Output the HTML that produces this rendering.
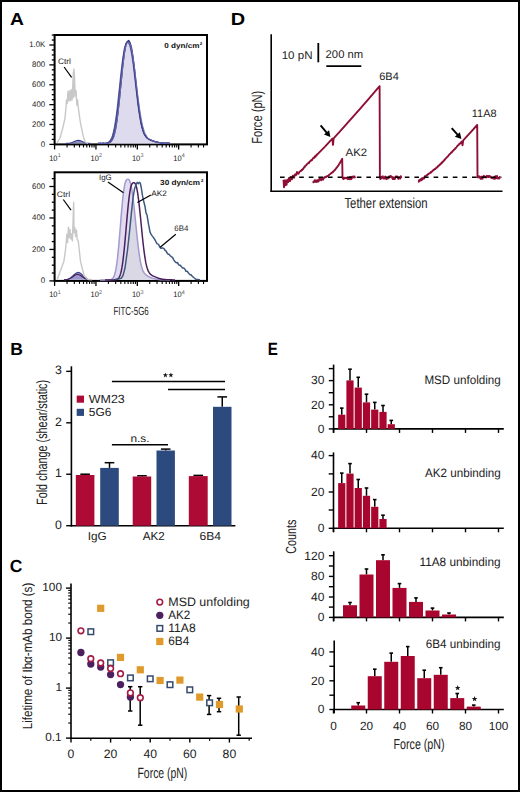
<!DOCTYPE html>
<html><head><meta charset="utf-8"><style>
html,body{margin:0;padding:0;background:#fff;}
body{width:520px;height:792px;overflow:hidden;}
svg{display:block;}
text{font-family:"Liberation Sans",sans-serif;text-rendering:geometricPrecision;}
</style></head><body>
<svg width="520" height="792" viewBox="0 0 520 792">
<rect x="0" y="0" width="520" height="792" fill="#fff"/>
<text x="9.9" y="25" font-size="17.3" font-weight="bold" fill="#000" textLength="13.9" lengthAdjust="spacingAndGlyphs">A</text>
<text x="230.8" y="25.4" font-size="17.5" font-weight="bold" fill="#000" textLength="14.4" lengthAdjust="spacingAndGlyphs">D</text>
<text x="10.3" y="354.6" font-size="17.5" font-weight="bold" fill="#000">B</text>
<text x="9.8" y="571.6" font-size="17.5" font-weight="bold" fill="#000">C</text>
<text x="267.8" y="354.8" font-size="17.8" font-weight="bold" fill="#000" textLength="10.1" lengthAdjust="spacingAndGlyphs">E</text>
<rect x="54.6" y="35" width="152.4" height="109.4" fill="none" stroke="#000" stroke-width="2"/>
<line x1="49.4" y1="144.4" x2="54.6" y2="144.4" stroke="#000" stroke-width="1.3"/>
<line x1="51.8" y1="139.43" x2="54.6" y2="139.43" stroke="#000" stroke-width="1.3"/>
<line x1="51.8" y1="134.46" x2="54.6" y2="134.46" stroke="#000" stroke-width="1.3"/>
<line x1="51.8" y1="129.49" x2="54.6" y2="129.49" stroke="#000" stroke-width="1.3"/>
<line x1="49.4" y1="124.52" x2="54.6" y2="124.52" stroke="#000" stroke-width="1.3"/>
<line x1="51.8" y1="119.55" x2="54.6" y2="119.55" stroke="#000" stroke-width="1.3"/>
<line x1="51.8" y1="114.58" x2="54.6" y2="114.58" stroke="#000" stroke-width="1.3"/>
<line x1="51.8" y1="109.61" x2="54.6" y2="109.61" stroke="#000" stroke-width="1.3"/>
<line x1="49.4" y1="104.64" x2="54.6" y2="104.64" stroke="#000" stroke-width="1.3"/>
<line x1="51.8" y1="99.67" x2="54.6" y2="99.67" stroke="#000" stroke-width="1.3"/>
<line x1="51.8" y1="94.7" x2="54.6" y2="94.7" stroke="#000" stroke-width="1.3"/>
<line x1="51.8" y1="89.73" x2="54.6" y2="89.73" stroke="#000" stroke-width="1.3"/>
<line x1="49.4" y1="84.76" x2="54.6" y2="84.76" stroke="#000" stroke-width="1.3"/>
<line x1="51.8" y1="79.79" x2="54.6" y2="79.79" stroke="#000" stroke-width="1.3"/>
<line x1="51.8" y1="74.82" x2="54.6" y2="74.82" stroke="#000" stroke-width="1.3"/>
<line x1="51.8" y1="69.85" x2="54.6" y2="69.85" stroke="#000" stroke-width="1.3"/>
<line x1="49.4" y1="64.88" x2="54.6" y2="64.88" stroke="#000" stroke-width="1.3"/>
<line x1="51.8" y1="59.91" x2="54.6" y2="59.91" stroke="#000" stroke-width="1.3"/>
<line x1="51.8" y1="54.94" x2="54.6" y2="54.94" stroke="#000" stroke-width="1.3"/>
<line x1="51.8" y1="49.97" x2="54.6" y2="49.97" stroke="#000" stroke-width="1.3"/>
<line x1="49.4" y1="45" x2="54.6" y2="45" stroke="#000" stroke-width="1.3"/>
<line x1="51.8" y1="40.03" x2="54.6" y2="40.03" stroke="#000" stroke-width="1.3"/>
<line x1="51.8" y1="35.06" x2="54.6" y2="35.06" stroke="#000" stroke-width="1.3"/>
<text x="45.1" y="146.5" font-size="8.1" text-anchor="end" fill="#222" textLength="4.4" lengthAdjust="spacingAndGlyphs">0</text>
<text x="45.1" y="126.62" font-size="8.1" text-anchor="end" fill="#222" textLength="13" lengthAdjust="spacingAndGlyphs">200</text>
<text x="45.1" y="106.74" font-size="8.1" text-anchor="end" fill="#222" textLength="13" lengthAdjust="spacingAndGlyphs">400</text>
<text x="45.1" y="86.86" font-size="8.1" text-anchor="end" fill="#222" textLength="13" lengthAdjust="spacingAndGlyphs">600</text>
<text x="45.1" y="66.98" font-size="8.1" text-anchor="end" fill="#222" textLength="13" lengthAdjust="spacingAndGlyphs">800</text>
<text x="45.1" y="47.1" font-size="8.1" text-anchor="end" fill="#222" textLength="15.9" lengthAdjust="spacingAndGlyphs">1.0K</text>
<line x1="54.6" y1="144.4" x2="54.6" y2="149.4" stroke="#000" stroke-width="1.3"/>
<line x1="67.05" y1="144.4" x2="67.05" y2="147.4" stroke="#000" stroke-width="1.1"/>
<line x1="74.33" y1="144.4" x2="74.33" y2="147.4" stroke="#000" stroke-width="1.1"/>
<line x1="79.5" y1="144.4" x2="79.5" y2="147.4" stroke="#000" stroke-width="1.1"/>
<line x1="83.5" y1="144.4" x2="83.5" y2="147.4" stroke="#000" stroke-width="1.1"/>
<line x1="86.78" y1="144.4" x2="86.78" y2="147.4" stroke="#000" stroke-width="1.1"/>
<line x1="89.54" y1="144.4" x2="89.54" y2="147.4" stroke="#000" stroke-width="1.1"/>
<line x1="91.94" y1="144.4" x2="91.94" y2="147.4" stroke="#000" stroke-width="1.1"/>
<line x1="94.06" y1="144.4" x2="94.06" y2="147.4" stroke="#000" stroke-width="1.1"/>
<text x="49.2" y="160.9" font-size="7.9" fill="#222" textLength="8.3" lengthAdjust="spacingAndGlyphs">10</text>
<text x="57.7" y="157.4" font-size="5.4" fill="#555">1</text>
<line x1="95.95" y1="144.4" x2="95.95" y2="149.4" stroke="#000" stroke-width="1.3"/>
<line x1="108.4" y1="144.4" x2="108.4" y2="147.4" stroke="#000" stroke-width="1.1"/>
<line x1="115.68" y1="144.4" x2="115.68" y2="147.4" stroke="#000" stroke-width="1.1"/>
<line x1="120.85" y1="144.4" x2="120.85" y2="147.4" stroke="#000" stroke-width="1.1"/>
<line x1="124.85" y1="144.4" x2="124.85" y2="147.4" stroke="#000" stroke-width="1.1"/>
<line x1="128.13" y1="144.4" x2="128.13" y2="147.4" stroke="#000" stroke-width="1.1"/>
<line x1="130.89" y1="144.4" x2="130.89" y2="147.4" stroke="#000" stroke-width="1.1"/>
<line x1="133.29" y1="144.4" x2="133.29" y2="147.4" stroke="#000" stroke-width="1.1"/>
<line x1="135.41" y1="144.4" x2="135.41" y2="147.4" stroke="#000" stroke-width="1.1"/>
<text x="90.55" y="160.9" font-size="7.9" fill="#222" textLength="8.3" lengthAdjust="spacingAndGlyphs">10</text>
<text x="99.05" y="157.4" font-size="5.4" fill="#555">2</text>
<line x1="137.3" y1="144.4" x2="137.3" y2="149.4" stroke="#000" stroke-width="1.3"/>
<line x1="149.75" y1="144.4" x2="149.75" y2="147.4" stroke="#000" stroke-width="1.1"/>
<line x1="157.03" y1="144.4" x2="157.03" y2="147.4" stroke="#000" stroke-width="1.1"/>
<line x1="162.2" y1="144.4" x2="162.2" y2="147.4" stroke="#000" stroke-width="1.1"/>
<line x1="166.2" y1="144.4" x2="166.2" y2="147.4" stroke="#000" stroke-width="1.1"/>
<line x1="169.48" y1="144.4" x2="169.48" y2="147.4" stroke="#000" stroke-width="1.1"/>
<line x1="172.24" y1="144.4" x2="172.24" y2="147.4" stroke="#000" stroke-width="1.1"/>
<line x1="174.64" y1="144.4" x2="174.64" y2="147.4" stroke="#000" stroke-width="1.1"/>
<line x1="176.76" y1="144.4" x2="176.76" y2="147.4" stroke="#000" stroke-width="1.1"/>
<text x="131.9" y="160.9" font-size="7.9" fill="#222" textLength="8.3" lengthAdjust="spacingAndGlyphs">10</text>
<text x="140.4" y="157.4" font-size="5.4" fill="#555">3</text>
<line x1="178.65" y1="144.4" x2="178.65" y2="149.4" stroke="#000" stroke-width="1.3"/>
<line x1="191.1" y1="144.4" x2="191.1" y2="147.4" stroke="#000" stroke-width="1.1"/>
<line x1="198.38" y1="144.4" x2="198.38" y2="147.4" stroke="#000" stroke-width="1.1"/>
<line x1="203.55" y1="144.4" x2="203.55" y2="147.4" stroke="#000" stroke-width="1.1"/>
<text x="173.25" y="160.9" font-size="7.9" fill="#222" textLength="8.3" lengthAdjust="spacingAndGlyphs">10</text>
<text x="181.75" y="157.4" font-size="5.4" fill="#555">4</text>
<text x="164.3" y="48.1" font-size="7.2" font-weight="bold" fill="#111" textLength="35.3" lengthAdjust="spacingAndGlyphs">0 dyn/cm</text>
<text x="199.8" y="45.3" font-size="4.4" font-weight="bold" fill="#111">2</text>
<path d="M100 143.4 L100 143.4 L100.54 143.4 L101.08 143.4 L101.62 143.4 L102.17 143.39 L102.71 143.39 L103.25 143.38 L103.79 143.37 L104.33 143.36 L104.88 143.34 L105.42 143.31 L105.96 143.26 L106.5 143.2 L107.04 143.12 L107.58 143 L108.12 142.85 L108.67 142.64 L109.21 142.36 L109.75 141.99 L110.29 141.52 L110.83 140.92 L111.38 140.16 L111.92 139.22 L112.46 138.06 L113 136.66 L113.54 134.98 L114.08 133 L114.62 130.68 L115.17 128.01 L115.71 124.97 L116.25 121.55 L116.79 117.75 L117.33 113.59 L117.88 109.1 L118.42 104.3 L118.96 99.25 L119.5 94 L120.04 88.63 L120.58 83.21 L121.12 77.83 L121.67 72.58 L122.21 67.53 L122.75 62.78 L123.29 58.39 L123.83 54.43 L124.38 50.96 L124.92 48.01 L125.46 45.61 L126 43.76 L126.54 42.45 L127.08 41.64 L127.62 41.24 L128.17 41.13 L128.71 41.33 L129.25 41.93 L129.79 43.01 L130.33 44.59 L130.88 46.68 L131.42 49.28 L131.96 52.37 L132.5 55.9 L133.04 59.85 L133.58 64.14 L134.12 68.72 L134.67 73.51 L135.21 78.44 L135.75 83.43 L136.29 88.41 L136.83 93.32 L137.38 98.09 L137.92 102.65 L138.46 106.98 L139 111.03 L139.54 114.77 L140.08 118.19 L140.62 121.28 L141.17 124.05 L141.71 126.5 L142.25 128.65 L142.79 130.52 L143.33 132.13 L143.88 133.51 L144.42 134.68 L144.96 135.68 L145.5 136.52 L146.04 137.23 L146.58 137.84 L147.12 138.35 L147.67 138.79 L148.21 139.17 L148.75 139.51 L149.29 139.81 L149.83 140.08 L150.38 140.33 L150.92 140.56 L151.46 140.77 L152 140.97 L152.54 141.16 L153.08 141.34 L153.62 141.51 L154.17 141.67 L154.71 141.82 L155.25 141.96 L155.79 142.1 L156.33 142.22 L156.88 142.34 L157.42 142.45 L157.96 142.55 L158.5 142.64 L159.04 142.73 L159.58 142.8 L160.12 142.87 L160.67 142.94 L161.21 143 L161.75 143.05 L162.29 143.09 L162.83 143.14 L163.38 143.17 L163.92 143.2 L164.46 143.23 L165 143.26 L165 143.4 Z" stroke="none" stroke-width="1" fill="#dfdbef"/>
<path d="M98 143.4 L98.8 143.27 L99.6 143.42 L100.4 143.33 L101.2 143.44 L102 143.44 L102.8 143.15 L103.6 143.1 L104.4 143.46 L105.2 143.1 L106 142.96 L106.8 143.15 L107.6 142.59 L108.4 142.33 L109.2 141.5 L110 140.67 L110.8 139.17 L111.6 137.73 L112.4 135.64 L113.2 132.65 L114 129.25 L114.8 124.97 L115.6 119.65 L116.4 114.24 L117.2 107.7 L118 100.53 L118.8 92.96 L119.6 85.74 L120.4 77.93 L121.2 70.71 L122 63.97 L122.8 57.82 L123.6 52.78 L124.4 48.43 L125.2 45.67 L126 43.62 L126.8 42.98 L127.6 42.76 L128.4 42.79 L129.2 44.11 L130 46.42 L130.8 50.07 L131.6 54.06 L132.4 59.28 L133.2 64.99 L134 71.52 L134.8 78.26 L135.6 85.19 L136.4 92.22 L137.2 98.89 L138 105.33 L138.8 110.98 L139.6 116.27 L140.4 120.76 L141.2 124.72 L142 127.82 L142.8 130.25 L143.6 132.78 L144.4 134.57 L145.2 135.92 L146 136.85 L146.8 137.78 L147.6 138.22 L148.4 139.09 L149.2 139.44 L150 139.7 L150.8 139.95 L151.6 140.67 L152.4 141.04 L153.2 140.87 L154 141.49 L154.8 141.54 L155.6 141.63 L156.4 141.91 L157.2 142.34 L158 142.56 L158.8 142.3 L159.6 142.72 L160.4 142.56 L161.2 143 L162 142.89 L162.8 143.25 L163.6 143.36 L164.4 143.18 L165.2 143.47 L166 143.16 L166.8 143.08 L167.6 143.36 L168.4 143.1 L169.2 143.2 L170 143.36" stroke="#5a5ea8" stroke-width="1.1" fill="none"/>
<path d="M98 143.4 L98.8 143.35 L99.6 143.45 L100.4 143.23 L101.2 143.17 L102 143.58 L102.8 143.3 L103.6 143.62 L104.4 143.57 L105.2 143.29 L106 143.3 L106.8 143.26 L107.6 143.21 L108.4 143.01 L109.2 142.72 L110 142.32 L110.8 141.86 L111.6 140.73 L112.4 139.42 L113.2 137.82 L114 135.27 L114.8 132.32 L115.6 128.91 L116.4 124.11 L117.2 118.71 L118 112.19 L118.8 105.41 L119.6 97.91 L120.4 89.64 L121.2 81.81 L122 73.81 L122.8 65.94 L123.6 59.33 L124.4 53.28 L125.2 48.54 L126 44.75 L126.8 42.53 L127.6 41.29 L128.4 40.56 L129.2 40.86 L130 42.4 L130.8 44.88 L131.6 48 L132.4 52.68 L133.2 58.33 L134 64.59 L134.8 71.62 L135.6 78.96 L136.4 86.48 L137.2 93.95 L138 100.83 L138.8 107.38 L139.6 113.46 L140.4 118.25 L141.2 122.96 L142 126.75 L142.8 129.58 L143.6 131.98 L144.4 134.2 L145.2 135.42 L146 136.56 L146.8 137.59 L147.6 138.43 L148.4 138.71 L149.2 139.29 L150 139.7 L150.8 140.31 L151.6 140.44 L152.4 140.95 L153.2 140.88 L154 141.23 L154.8 141.63 L155.6 141.98 L156.4 141.97 L157.2 142.05 L158 142.17 L158.8 142.53 L159.6 142.5 L160.4 142.93 L161.2 143.05 L162 142.81 L162.8 142.94 L163.6 143.27 L164.4 143.24 L165.2 143.37 L166 143.18 L166.8 143.1 L167.6 143.21 L168.4 143.48 L169.2 143.23 L170 143.36" stroke="#2c2c6a" stroke-width="1.2" fill="none"/>
<path d="M98 143.4 L98.8 143.32 L99.6 143.36 L100.4 143.36 L101.2 143.35 L102 143.6 L102.8 143.21 L103.6 143.12 L104.4 143.56 L105.2 143.48 L106 143.46 L106.8 143.05 L107.6 143.11 L108.4 142.79 L109.2 141.98 L110 141.57 L110.8 140.66 L111.6 139.25 L112.4 137.4 L113.2 134.96 L114 132.01 L114.8 128.25 L115.6 123.7 L116.4 118.68 L117.2 112.48 L118 106 L118.8 98.31 L119.6 91.04 L120.4 83.07 L121.2 75.42 L122 67.99 L122.8 61.18 L123.6 55.05 L124.4 49.81 L125.2 46.35 L126 43.4 L126.8 41.91 L127.6 41.49 L128.4 41.42 L129.2 42.15 L130 44.2 L130.8 46.88 L131.6 50.66 L132.4 55.53 L133.2 61.61 L134 67.88 L134.8 74.98 L135.6 81.97 L136.4 89.12 L137.2 96.32 L138 103.13 L138.8 108.95 L139.6 114.79 L140.4 119.71 L141.2 123.81 L142 127.31 L142.8 129.77 L143.6 132.39 L144.4 134.34 L145.2 135.38 L146 136.63 L146.8 137.51 L147.6 138.34 L148.4 138.86 L149.2 139.36 L150 139.92 L150.8 139.9 L151.6 140.25 L152.4 140.59 L153.2 140.87 L154 141.1 L154.8 141.8 L155.6 141.97 L156.4 141.79 L157.2 142.19 L158 142.27 L158.8 142.43 L159.6 142.58 L160.4 142.85 L161.2 142.93 L162 142.9 L162.8 142.9 L163.6 143.03 L164.4 142.98 L165.2 143.25 L166 143.36 L166.8 143.23 L167.6 143.1 L168.4 143.17 L169.2 143.28 L170 143.36" stroke="#42438a" stroke-width="1.1" fill="none"/>
<path d="M98 143.4 L98.8 143.45 L99.6 143.54 L100.4 143.34 L101.2 143.55 L102 143.46 L102.8 143.36 L103.6 143.33 L104.4 143.38 L105.2 143.47 L106 143.3 L106.8 143.39 L107.6 143.19 L108.4 142.94 L109.2 142.86 L110 142.58 L110.8 141.72 L111.6 141.1 L112.4 139.95 L113.2 138.57 L114 136.43 L114.8 133.31 L115.6 129.96 L116.4 125.44 L117.2 119.83 L118 113.71 L118.8 106.53 L119.6 99.22 L120.4 91.06 L121.2 82.92 L122 74.75 L122.8 67.01 L123.6 60.11 L124.4 54.08 L125.2 49.09 L126 45.86 L126.8 43.37 L127.6 42.41 L128.4 42.5 L129.2 42.51 L130 43.72 L130.8 45.84 L131.6 49.31 L132.4 52.96 L133.2 57.74 L134 63.74 L134.8 69.55 L135.6 76.47 L136.4 83.15 L137.2 90.01 L138 96.68 L138.8 102.79 L139.6 108.75 L140.4 113.68 L141.2 118.76 L142 122.75 L142.8 126.36 L143.6 129 L144.4 131.75 L145.2 133.82 L146 134.98 L146.8 136.38 L147.6 137.52 L148.4 138.47 L149.2 138.84 L150 139.35 L150.8 139.85 L151.6 140.43 L152.4 140.84 L153.2 140.97 L154 141.24 L154.8 141.51 L155.6 141.72 L156.4 141.97 L157.2 141.99 L158 142.37 L158.8 142.76 L159.6 142.62 L160.4 142.91 L161.2 142.72 L162 143.07 L162.8 143.18 L163.6 143.21 L164.4 143.18 L165.2 143.21 L166 143.33 L166.8 143.49 L167.6 143.14 L168.4 143.13 L169.2 143.47 L170 143.36" stroke="#6b6db4" stroke-width="1" fill="none"/>
<path d="M66 143.37 L66.6 143.36 L67.2 143.33 L67.8 143.3 L68.4 143.25 L69 143.19 L69.6 143.1 L70.2 142.99 L70.8 142.86 L71.4 142.69 L72 142.5 L72.6 142.27 L73.2 142.03 L73.8 141.76 L74.4 141.49 L75 141.22 L75.6 140.97 L76.2 140.75 L76.8 140.58 L77.4 140.46 L78 140.4 L78.6 140.41 L79.2 140.49 L79.8 140.63 L80.4 140.82 L81 141.05 L81.6 141.31 L82.2 141.58 L82.8 141.85 L83.4 142.11 L84 142.35 L84.6 142.57 L85.2 142.75 L85.8 142.91 L86.4 143.03 L87 143.13 L87.6 143.21 L88.2 143.27 L88.8 143.31 L89.4 143.34 L90 143.36" stroke="#3a3d85" stroke-width="1.1" fill="#8c90c8"/>
<path d="M57 143 L60 138 L63.1 126.7 L65 118 L66.2 105 L66.4 99.93 L67.2 103.43 L68 91.17 L68.8 100.99 L69.6 90.72 L70.4 100.7 L71.2 89.59 L72 100.1 L72.8 85.14 L73.4 72 L73.6 97.54 L73.8 68.9 L74.4 74.28 L74.4 74 L75.2 96.03 L76 90.36 L76.8 105.14 L77.6 99.83 L78.2 106.7 L80.3 122.2 L83.1 135.6 L85.3 142.2 L88 143.4" stroke="#c8c8c8" stroke-width="1.4" fill="none" stroke-linejoin="round"/>
<text x="58" y="64.4" font-size="7.9" fill="#222" textLength="12.9" lengthAdjust="spacingAndGlyphs">Ctrl</text>
<line x1="64.1" y1="67" x2="71.6" y2="77.4" stroke="#000" stroke-width="1.2"/>
<rect x="54.6" y="172.3" width="152.4" height="108.6" fill="none" stroke="#000" stroke-width="2"/>
<line x1="49.4" y1="280.9" x2="54.6" y2="280.9" stroke="#000" stroke-width="1.3"/>
<line x1="51.8" y1="273.03" x2="54.6" y2="273.03" stroke="#000" stroke-width="1.3"/>
<line x1="51.8" y1="265.17" x2="54.6" y2="265.17" stroke="#000" stroke-width="1.3"/>
<line x1="51.8" y1="257.3" x2="54.6" y2="257.3" stroke="#000" stroke-width="1.3"/>
<line x1="49.4" y1="249.43" x2="54.6" y2="249.43" stroke="#000" stroke-width="1.3"/>
<line x1="51.8" y1="241.57" x2="54.6" y2="241.57" stroke="#000" stroke-width="1.3"/>
<line x1="51.8" y1="233.7" x2="54.6" y2="233.7" stroke="#000" stroke-width="1.3"/>
<line x1="51.8" y1="225.83" x2="54.6" y2="225.83" stroke="#000" stroke-width="1.3"/>
<line x1="49.4" y1="217.97" x2="54.6" y2="217.97" stroke="#000" stroke-width="1.3"/>
<line x1="51.8" y1="210.1" x2="54.6" y2="210.1" stroke="#000" stroke-width="1.3"/>
<line x1="51.8" y1="202.23" x2="54.6" y2="202.23" stroke="#000" stroke-width="1.3"/>
<line x1="51.8" y1="194.37" x2="54.6" y2="194.37" stroke="#000" stroke-width="1.3"/>
<line x1="49.4" y1="186.5" x2="54.6" y2="186.5" stroke="#000" stroke-width="1.3"/>
<line x1="51.8" y1="178.63" x2="54.6" y2="178.63" stroke="#000" stroke-width="1.3"/>
<text x="45.1" y="283" font-size="8.1" text-anchor="end" fill="#222" textLength="4.4" lengthAdjust="spacingAndGlyphs">0</text>
<text x="45.1" y="251.53" font-size="8.1" text-anchor="end" fill="#222" textLength="13" lengthAdjust="spacingAndGlyphs">200</text>
<text x="45.1" y="220.07" font-size="8.1" text-anchor="end" fill="#222" textLength="13" lengthAdjust="spacingAndGlyphs">400</text>
<text x="45.1" y="188.6" font-size="8.1" text-anchor="end" fill="#222" textLength="13" lengthAdjust="spacingAndGlyphs">600</text>
<line x1="54.6" y1="280.9" x2="54.6" y2="285.9" stroke="#000" stroke-width="1.3"/>
<line x1="67.05" y1="280.9" x2="67.05" y2="283.9" stroke="#000" stroke-width="1.1"/>
<line x1="74.33" y1="280.9" x2="74.33" y2="283.9" stroke="#000" stroke-width="1.1"/>
<line x1="79.5" y1="280.9" x2="79.5" y2="283.9" stroke="#000" stroke-width="1.1"/>
<line x1="83.5" y1="280.9" x2="83.5" y2="283.9" stroke="#000" stroke-width="1.1"/>
<line x1="86.78" y1="280.9" x2="86.78" y2="283.9" stroke="#000" stroke-width="1.1"/>
<line x1="89.54" y1="280.9" x2="89.54" y2="283.9" stroke="#000" stroke-width="1.1"/>
<line x1="91.94" y1="280.9" x2="91.94" y2="283.9" stroke="#000" stroke-width="1.1"/>
<line x1="94.06" y1="280.9" x2="94.06" y2="283.9" stroke="#000" stroke-width="1.1"/>
<text x="49.2" y="297.4" font-size="7.9" fill="#222" textLength="8.3" lengthAdjust="spacingAndGlyphs">10</text>
<text x="57.7" y="293.9" font-size="5.4" fill="#555">1</text>
<line x1="95.95" y1="280.9" x2="95.95" y2="285.9" stroke="#000" stroke-width="1.3"/>
<line x1="108.4" y1="280.9" x2="108.4" y2="283.9" stroke="#000" stroke-width="1.1"/>
<line x1="115.68" y1="280.9" x2="115.68" y2="283.9" stroke="#000" stroke-width="1.1"/>
<line x1="120.85" y1="280.9" x2="120.85" y2="283.9" stroke="#000" stroke-width="1.1"/>
<line x1="124.85" y1="280.9" x2="124.85" y2="283.9" stroke="#000" stroke-width="1.1"/>
<line x1="128.13" y1="280.9" x2="128.13" y2="283.9" stroke="#000" stroke-width="1.1"/>
<line x1="130.89" y1="280.9" x2="130.89" y2="283.9" stroke="#000" stroke-width="1.1"/>
<line x1="133.29" y1="280.9" x2="133.29" y2="283.9" stroke="#000" stroke-width="1.1"/>
<line x1="135.41" y1="280.9" x2="135.41" y2="283.9" stroke="#000" stroke-width="1.1"/>
<text x="90.55" y="297.4" font-size="7.9" fill="#222" textLength="8.3" lengthAdjust="spacingAndGlyphs">10</text>
<text x="99.05" y="293.9" font-size="5.4" fill="#555">2</text>
<line x1="137.3" y1="280.9" x2="137.3" y2="285.9" stroke="#000" stroke-width="1.3"/>
<line x1="149.75" y1="280.9" x2="149.75" y2="283.9" stroke="#000" stroke-width="1.1"/>
<line x1="157.03" y1="280.9" x2="157.03" y2="283.9" stroke="#000" stroke-width="1.1"/>
<line x1="162.2" y1="280.9" x2="162.2" y2="283.9" stroke="#000" stroke-width="1.1"/>
<line x1="166.2" y1="280.9" x2="166.2" y2="283.9" stroke="#000" stroke-width="1.1"/>
<line x1="169.48" y1="280.9" x2="169.48" y2="283.9" stroke="#000" stroke-width="1.1"/>
<line x1="172.24" y1="280.9" x2="172.24" y2="283.9" stroke="#000" stroke-width="1.1"/>
<line x1="174.64" y1="280.9" x2="174.64" y2="283.9" stroke="#000" stroke-width="1.1"/>
<line x1="176.76" y1="280.9" x2="176.76" y2="283.9" stroke="#000" stroke-width="1.1"/>
<text x="131.9" y="297.4" font-size="7.9" fill="#222" textLength="8.3" lengthAdjust="spacingAndGlyphs">10</text>
<text x="140.4" y="293.9" font-size="5.4" fill="#555">3</text>
<line x1="178.65" y1="280.9" x2="178.65" y2="285.9" stroke="#000" stroke-width="1.3"/>
<line x1="191.1" y1="280.9" x2="191.1" y2="283.9" stroke="#000" stroke-width="1.1"/>
<line x1="198.38" y1="280.9" x2="198.38" y2="283.9" stroke="#000" stroke-width="1.1"/>
<line x1="203.55" y1="280.9" x2="203.55" y2="283.9" stroke="#000" stroke-width="1.1"/>
<text x="173.25" y="297.4" font-size="7.9" fill="#222" textLength="8.3" lengthAdjust="spacingAndGlyphs">10</text>
<text x="181.75" y="293.9" font-size="5.4" fill="#555">4</text>
<text x="160.1" y="184.7" font-size="7.4" font-weight="bold" fill="#111" textLength="39.9" lengthAdjust="spacingAndGlyphs">30 dyn/cm</text>
<text x="201" y="181.6" font-size="4.4" font-weight="bold" fill="#111">2</text>
<path d="M100 279.9 L100 279.9 L100.58 279.9 L101.17 279.9 L101.75 279.9 L102.33 279.9 L102.92 279.9 L103.5 279.9 L104.08 279.9 L104.67 279.9 L105.25 279.9 L105.83 279.9 L106.42 279.9 L107 279.89 L107.58 279.89 L108.17 279.88 L108.75 279.86 L109.33 279.83 L109.92 279.78 L110.5 279.68 L111.08 279.53 L111.67 279.29 L112.25 278.91 L112.83 278.35 L113.42 277.54 L114 276.4 L114.58 274.85 L115.17 272.79 L115.75 270.14 L116.33 266.83 L116.92 262.8 L117.5 258.04 L118.08 252.58 L118.67 246.47 L119.25 239.84 L119.83 232.82 L120.42 225.61 L121 218.41 L121.58 211.43 L122.17 204.87 L122.75 198.91 L123.33 193.69 L123.92 189.3 L124.5 185.79 L125.08 183.15 L125.67 181.32 L126.25 180.2 L126.83 179.62 L127.42 179.38 L128 179.28 L128.58 179.44 L129.17 180.01 L129.75 181.06 L130.33 182.68 L130.92 184.9 L131.5 187.75 L132.08 191.23 L132.67 195.3 L133.25 199.92 L133.83 204.99 L134.42 210.43 L135 216.13 L135.58 221.95 L136.17 227.78 L136.75 233.5 L137.33 239 L137.92 244.18 L138.5 248.98 L139.08 253.33 L139.67 257.2 L140.25 260.59 L140.83 263.5 L141.42 265.96 L142 268.02 L142.58 269.71 L143.17 271.09 L143.75 272.2 L144.33 273.1 L144.92 273.84 L145.5 274.44 L146.08 274.95 L146.67 275.38 L147.25 275.76 L147.83 276.1 L148.42 276.41 L149 276.7 L149.58 276.98 L150.17 277.24 L150.75 277.49 L151.33 277.72 L151.92 277.94 L152.5 278.15 L153.08 278.34 L153.67 278.52 L154.25 278.69 L154.83 278.84 L155.42 278.97 L156 279.1 L156.58 279.21 L157.17 279.31 L157.75 279.39 L158.33 279.47 L158.92 279.54 L159.5 279.6 L160.08 279.65 L160.67 279.69 L161.25 279.73 L161.83 279.76 L162.42 279.78 L163 279.8 L163.58 279.82 L164.17 279.84 L164.75 279.85 L165.33 279.86 L165.92 279.87 L166.5 279.88 L167.08 279.88 L167.67 279.89 L168.25 279.89 L168.83 279.89 L169.42 279.89 L170 279.89 L170 279.9 Z" stroke="none" stroke-width="1" fill="#e2dcf0"/>
<path d="M115 279.9 L115 279.4 L115.5 279.35 L116 279.3 L116.5 279.25 L117 279.2 L117.5 279.15 L118 279.1 L118.5 278.97 L119 278.85 L119.5 278.72 L120 278.6 L120.5 278.48 L121 278.35 L121.5 277.83 L122 277.06 L122.5 276.28 L123 275.5 L123.5 273.62 L124 271.75 L124.5 269.88 L125 268 L125.5 264.4 L126 260.8 L126.5 257.2 L127 253.6 L127.5 250 L128 245.5 L128.5 241 L129 236.5 L129.5 232 L130 227 L130.5 222 L131 217 L131.5 212 L132 207.33 L132.5 202.67 L133 198 L133.5 202.04 L134 206.51 L134.5 211.23 L135 216.13 L135.5 221.11 L136 226.12 L136.5 231.07 L137 235.89 L137.5 240.52 L138 244.89 L138.5 248.98 L139 252.73 L139.5 256.14 L140 259.19 L140.5 261.89 L141 264.25 L141.5 266.28 L142 268.02 L142.5 269.49 L143 270.72 L143.5 271.75 L144 272.61 L144.5 273.33 L145 273.93 L145.5 274.44 L146 274.88 L146.5 275.26 L147 275.6 L147.5 275.91 L148 276.19 L148.5 276.46 L149 276.7 L149.5 276.94 L150 277.17 L150.5 277.38 L151 277.59 L151.5 277.79 L152 277.97 L152.5 278.15 L153 278.32 L153.5 278.47 L154 278.62 L154.5 278.75 L155 278.88 L155.5 278.99 L156 279.1 L156.5 279.19 L157 279.28 L157.5 279.36 L158 279.43 L158.5 279.49 L159 279.55 L159.5 279.6 L160 279.64 L160.5 279.68 L161 279.71 L161.5 279.74 L162 279.76 L162.5 279.79 L163 279.8 L163.5 279.82 L164 279.83 L164.5 279.85 L165 279.86 L165.5 279.86 L166 279.87 L166.5 279.88 L167 279.88 L167.5 279.88 L168 279.89 L168.5 279.89 L169 279.89 L169.5 279.89 L170 279.89 L170 279.9 Z" stroke="none" stroke-width="1" fill="#d9d8e4"/>
<path d="M100 279.9 L100.58 279.9 L101.17 279.9 L101.75 279.9 L102.33 279.9 L102.92 279.9 L103.5 279.9 L104.08 279.9 L104.67 279.9 L105.25 279.9 L105.83 279.9 L106.42 279.9 L107 279.89 L107.58 279.89 L108.17 279.88 L108.75 279.86 L109.33 279.83 L109.92 279.78 L110.5 279.68 L111.08 279.53 L111.67 279.29 L112.25 278.91 L112.83 278.35 L113.42 277.54 L114 276.4 L114.58 274.85 L115.17 272.79 L115.75 270.14 L116.33 266.83 L116.92 262.8 L117.5 258.04 L118.08 252.58 L118.67 246.47 L119.25 239.84 L119.83 232.82 L120.42 225.61 L121 218.41 L121.58 211.43 L122.17 204.87 L122.75 198.91 L123.33 193.69 L123.92 189.3 L124.5 185.79 L125.08 183.15 L125.67 181.32 L126.25 180.2 L126.83 179.62 L127.42 179.38 L128 179.28 L128.58 179.44 L129.17 180.01 L129.75 181.06 L130.33 182.68 L130.92 184.9 L131.5 187.75 L132.08 191.23 L132.67 195.3 L133.25 199.92 L133.83 204.99 L134.42 210.43 L135 216.13 L135.58 221.95 L136.17 227.78 L136.75 233.5 L137.33 239 L137.92 244.18 L138.5 248.98 L139.08 253.33 L139.67 257.2 L140.25 260.59 L140.83 263.5 L141.42 265.96 L142 268.02 L142.58 269.71 L143.17 271.09 L143.75 272.2 L144.33 273.1 L144.92 273.84 L145.5 274.44 L146.08 274.95 L146.67 275.38 L147.25 275.76 L147.83 276.1 L148.42 276.41 L149 276.7 L149.58 276.98 L150.17 277.24 L150.75 277.49 L151.33 277.72 L151.92 277.94 L152.5 278.15 L153.08 278.34 L153.67 278.52 L154.25 278.69 L154.83 278.84 L155.42 278.97 L156 279.1 L156.58 279.21 L157.17 279.31 L157.75 279.39 L158.33 279.47 L158.92 279.54 L159.5 279.6 L160.08 279.65 L160.67 279.69 L161.25 279.73 L161.83 279.76 L162.42 279.78 L163 279.8 L163.58 279.82 L164.17 279.84 L164.75 279.85 L165.33 279.86 L165.92 279.87 L166.5 279.88 L167.08 279.88 L167.67 279.89 L168.25 279.89 L168.83 279.89 L169.42 279.89 L170 279.89" stroke="#a29ad0" stroke-width="1.5" fill="none"/>
<path d="M105 279.9 L105.58 279.9 L106.17 279.9 L106.75 279.9 L107.33 279.9 L107.92 279.9 L108.5 279.9 L109.08 279.9 L109.67 279.9 L110.25 279.9 L110.83 279.9 L111.42 279.9 L112 279.9 L112.58 279.89 L113.17 279.89 L113.75 279.88 L114.33 279.86 L114.92 279.82 L115.5 279.77 L116.08 279.67 L116.67 279.51 L117.25 279.27 L117.83 278.91 L118.42 278.37 L119 277.6 L119.58 276.52 L120.17 275.07 L120.75 273.17 L121.33 270.73 L121.92 267.7 L122.5 264.02 L123.08 259.68 L123.67 254.69 L124.25 249.1 L124.83 242.99 L125.42 236.5 L126 229.78 L126.58 223.01 L127.17 216.37 L127.75 210.03 L128.33 204.18 L128.92 198.95 L129.5 194.43 L130.08 190.7 L130.67 187.77 L131.25 185.61 L131.83 184.16 L132.42 183.3 L133 182.89 L133.58 182.69 L134.17 182.68 L134.75 183.01 L135.33 183.81 L135.92 185.19 L136.5 187.19 L137.08 189.88 L137.67 193.23 L138.25 197.24 L138.83 201.85 L139.42 206.97 L140 212.49 L140.58 218.29 L141.17 224.24 L141.75 230.18 L142.33 235.98 L142.92 241.53 L143.5 246.72 L144.08 251.46 L144.67 255.7 L145.25 259.43 L145.83 262.63 L146.42 265.32 L147 267.55 L147.58 269.37 L148.17 270.83 L148.75 271.99 L149.33 272.91 L149.92 273.64 L150.5 274.23 L151.08 274.72 L151.67 275.12 L152.25 275.48 L152.83 275.8 L153.42 276.1 L154 276.38 L154.58 276.66 L155.17 276.92 L155.75 277.17 L156.33 277.41 L156.92 277.64 L157.5 277.86 L158.08 278.07 L158.67 278.26 L159.25 278.45 L159.83 278.62 L160.42 278.77 L161 278.91 L161.58 279.04 L162.17 279.16 L162.75 279.26 L163.33 279.35 L163.92 279.43 L164.5 279.5 L165.08 279.57 L165.67 279.62 L166.25 279.67 L166.83 279.71 L167.42 279.74 L168 279.77 L168.58 279.79 L169.17 279.81 L169.75 279.83 L170.33 279.84 L170.92 279.86 L171.5 279.86 L172.08 279.87 L172.67 279.88 L173.25 279.88 L173.83 279.89 L174.42 279.89 L175 279.89" stroke="#4a1f5c" stroke-width="1.5" fill="none"/>
<path d="M115 279.4 L116 279.3 L117 279.2 L118 279.1 L119.07 278.83 L120.13 278.57 L121.2 278.3 L123 275.5 L124 271.75 L125 268 L126.25 259 L127.5 250 L128.5 241 L129.5 232 L130.5 222 L131.5 212 L133 198 L134.5 189 L136 184.5 L137.2 182.4 L138.2 183.8 L139.2 182.3 L140.3 183.2 L141.3 187.75 L142.5 195.68 L143.5 200.49 L145 206.36 L146 212.88 L147 214.96 L148.5 224.18 L150 231.94 L151 234.1 L152 235.58 L153.5 237.6 L155 239.97 L156 241.9 L157 243.64 L158.5 244.32 L160 247.42 L161 248.33 L162 247.94 L163 248.01 L164 248.69 L165 250.23 L166 250.82 L167 252.83 L168 254.14 L169 254.29 L170 255.44 L171.25 256.57 L172.5 257.44 L173.75 259.87 L175 261.65 L176.25 262.72 L177.5 262.56 L178.75 264.91 L180 265.16 L181.25 266.36 L182.5 267.91 L183.75 268 L185 269.27 L186 271.35 L187 271.13 L188 272.24 L189 273.64 L190 274.82 L191 274.61 L192 275.95 L193 276.89 L194 277.74 L195 278.53 L196 279.3 L197 279.43 L198 279.55 L199 279.68 L200 279.8" stroke="#3e587f" stroke-width="1.5" fill="none" stroke-linejoin="round"/>
<path d="M64 279.78 L64.65 279.73 L65.3 279.66 L65.95 279.56 L66.6 279.44 L67.25 279.28 L67.9 279.07 L68.55 278.82 L69.2 278.52 L69.85 278.16 L70.5 277.75 L71.15 277.28 L71.8 276.76 L72.45 276.21 L73.1 275.62 L73.75 275.03 L74.4 274.45 L75.05 273.91 L75.7 273.42 L76.35 273 L77 272.69 L77.65 272.48 L78.3 272.4 L78.95 272.46 L79.6 272.7 L80.25 273.09 L80.9 273.62 L81.55 274.24 L82.2 274.92 L82.85 275.62 L83.5 276.31 L84.15 276.96 L84.8 277.55 L85.45 278.07 L86.1 278.5 L86.75 278.86 L87.4 279.14 L88.05 279.36 L88.7 279.53 L89.35 279.65 L90 279.73" stroke="#3a3d85" stroke-width="1.1" fill="#9a98cc"/>
<path d="M64 279.84 L64.65 279.81 L65.3 279.76 L65.95 279.7 L66.6 279.61 L67.25 279.49 L67.9 279.33 L68.55 279.14 L69.2 278.9 L69.85 278.6 L70.5 278.26 L71.15 277.87 L71.8 277.43 L72.45 276.97 L73.1 276.49 L73.75 276.01 L74.4 275.56 L75.05 275.16 L75.7 274.82 L76.35 274.58 L77 274.43 L77.65 274.4 L78.3 274.49 L78.95 274.68 L79.6 274.97 L80.25 275.34 L80.9 275.77 L81.55 276.23 L82.2 276.71 L82.85 277.19 L83.5 277.64 L84.15 278.05 L84.8 278.42 L85.45 278.74 L86.1 279.01 L86.75 279.23 L87.4 279.41 L88.05 279.55 L88.7 279.65 L89.35 279.73 L90 279.78" stroke="#4a1f5c" stroke-width="1.1" fill="none"/>
<path d="M57.3 279.3 L60 272 L63.9 261.3 L65.5 250 L66.6 238 L66.8 234.22 L67.6 242.67 L68.4 227.2 L69.2 237.61 L70 229.48 L70.8 239 L71.6 233.82 L72.4 240.88 L73.2 216.74 L73.4 208 L73.7 202.5 L74 232.81 L74.8 227.67 L75.6 236.49 L76.4 229.84 L77.2 239.31 L78.3 241.1 L80.5 261.3 L84.1 275.5 L87.6 279.3 L92 279.8" stroke="#c8c8c8" stroke-width="1.4" fill="none" stroke-linejoin="round"/>
<text x="56.8" y="197.4" font-size="7.9" fill="#222" textLength="13.3" lengthAdjust="spacingAndGlyphs">Ctrl</text>
<line x1="63.3" y1="199.5" x2="71" y2="210.2" stroke="#000" stroke-width="1.2"/>
<text x="99" y="180" font-size="7.9" fill="#222" textLength="12.7" lengthAdjust="spacingAndGlyphs">IgG</text>
<line x1="107.9" y1="182" x2="123.5" y2="192.7" stroke="#000" stroke-width="1.2"/>
<text x="151.2" y="195.7" font-size="7.9" fill="#222" textLength="15.6" lengthAdjust="spacingAndGlyphs">AK2</text>
<line x1="150.9" y1="194.9" x2="137.4" y2="202.6" stroke="#000" stroke-width="1.2"/>
<text x="174.3" y="231" font-size="7.9" fill="#222" textLength="14" lengthAdjust="spacingAndGlyphs">6B4</text>
<line x1="175.8" y1="234.2" x2="160.2" y2="247.3" stroke="#000" stroke-width="1.2"/>
<text x="113.5" y="314.6" font-size="11.8" fill="#222" textLength="35.2" lengthAdjust="spacingAndGlyphs">FITC-5G6</text>
<line x1="271.2" y1="34.2" x2="271.2" y2="192" stroke="#000" stroke-width="1.6"/>
<line x1="270.4" y1="191.3" x2="502.5" y2="191.3" stroke="#000" stroke-width="1.6"/>
<text x="281.7" y="58.5" font-size="11.2" fill="#222" textLength="30.8" lengthAdjust="spacingAndGlyphs">10 pN</text>
<line x1="318.3" y1="43" x2="318.3" y2="62.3" stroke="#000" stroke-width="1.8"/>
<text x="325.6" y="58.2" font-size="11.2" fill="#222" textLength="37.6" lengthAdjust="spacingAndGlyphs">200 nm</text>
<line x1="326.3" y1="66.2" x2="361.3" y2="66.2" stroke="#000" stroke-width="1.8"/>
<text x="379.2" y="80.2" font-size="10.8" fill="#222" textLength="19.6" lengthAdjust="spacingAndGlyphs">6B4</text>
<text x="345.6" y="155.7" font-size="10.8" fill="#222" textLength="21.6" lengthAdjust="spacingAndGlyphs">AK2</text>
<text x="471.8" y="116.9" font-size="10.8" fill="#222" textLength="24.7" lengthAdjust="spacingAndGlyphs">11A8</text>
<text x="344.4" y="208.3" font-size="14.6" fill="#222" textLength="83.3" lengthAdjust="spacingAndGlyphs">Tether extension</text>
<text x="262" y="143.8" font-size="14.6" fill="#222" textLength="53.1" lengthAdjust="spacingAndGlyphs" transform="rotate(-90 262 143.8)">Force (pN)</text>
<path d="M283.5 179.72 L283.54 179.96 L283.58 181.29 L283.62 180.89 L283.65 182.15 L283.69 182.4 L283.73 182.43 L283.77 183.67 L283.81 183.44 L283.85 184.6 L283.88 184.54 L283.92 185.1 L283.96 186.16 L284 187.32 L284.05 185.67 L284.11 185.3 L284.16 185.42 L284.22 185.41 L284.27 184.29 L284.33 183.47 L284.38 183.87 L284.44 181.86 L284.49 182.63 L284.55 181.19 L284.6 180.43 L284.66 180.89 L284.72 181.69 L284.78 183.01 L284.84 182.49 L284.9 183.63 L284.96 184.22 L285.02 184.3 L285.08 185.08 L285.14 184.8 L285.2 185.3 L285.26 185.01 L285.32 185.25 L285.38 184.32 L285.44 183.62 L285.5 183.54 L285.56 182.81 L285.62 182.04 L285.68 182.31 L285.74 181.64 L285.8 180.39 L285.93 181.45 L286.07 181.91 L286.2 183 L286.33 183.3 L286.47 183.13 L286.6 184.77 L286.69 182.89 L286.78 182.87 L286.87 182.91 L286.96 181.44 L287.04 181.48 L287.13 180.26 L287.22 180.77 L287.31 180.42 L287.4 179.62 L287.56 180.6 L287.72 180.2 L287.88 181.31 L288.04 181.65 L288.2 182.13 L288.33 181.36 L288.47 181.41 L288.6 181.01 L288.73 179.69 L288.87 179.43 L289 177.9 L289.25 179.4 L289.5 179.79 L289.75 180.81 L290 181.02 L290.17 179.66 L290.33 179.32 L290.5 179.27 L290.67 177.74 L290.83 177.94 L291 176.97 L291.33 177.39 L291.67 177.79 L292 179.43 L292.17 177.87 L292.33 177.53 L292.5 177.23 L292.67 177.46 L292.83 175.66 L293 175.72 L293.33 176.35 L293.67 177.35 L294 177.71 L294.17 177.28 L294.33 175.85 L294.5 175.56 L294.67 174.97 L294.83 175.31 L295 174.93 L295.33 174.11 L295.67 174.62 L296 175.17 L296.2 174.61 L296.4 174.46 L296.6 174.06 L296.8 172.98 L297 172.01 L297.5 173.17 L298 173.59 L298.3 173.51 L298.6 173.72 L298.9 172.9 L299.2 172.22 L299.5 171.8 L301 170.92 L301.36 170.6 L301.73 169.61 L302.09 170.08 L302.45 169.59 L302.82 169.31 L303.18 168.86 L303.55 168.08 L303.91 167.72 L304.27 167.05 L304.64 167.21 L305 166.26 L305.36 165.89 L305.73 165.66 L306.09 165.24 L306.45 165.05 L306.82 164.39 L307.18 163.96 L307.55 163.74 L307.91 163.32 L308.27 163.21 L308.64 162.5 L309 162.97 L309.36 162.36 L309.72 161.55 L310.07 161.3 L310.43 161.05 L310.79 160.71 L311.15 160.12 L311.51 160.5 L311.87 160.29 L312.23 159.42 L312.58 159.08 L312.94 158.34 L313.3 158 L313.66 157.89 L314.02 157.46 L314.38 157.68 L314.73 156.66 L315.09 156.17 L315.45 156.75 L315.81 155.98 L316.17 155.25 L316.53 155.29 L316.88 154.43 L317.24 154.58 L317.6 154.2 L325 146.6 L332.4 138.6 L333 144.8 L333.6 138.3 L340 131.4 L350 120.2 L360 108.8 L370 97.4 L379.6 86.2 L379.9 177.4 L380.3 179.13 L380.8 178.74 L381.3 178.17 L381.8 176.69 L382.3 177.05 L382.8 176.37 L383.3 178.42 L383.8 177.61 L384.3 178.45 L384.8 176.92 L385.3 176.56 L385.8 178.56 L386.3 179.15 L386.8 178.7 L387.3 178.54 L387.8 178.58 L388.3 178.32 L388.8 176.57 L389.3 177.56 L389.8 177.01 L390.3 175.9 L390.8 175.89 L391.3 176.75 L391.8 176.68 L392.3 178.15 L392.8 179.05 L393.3 177.32 L393.8 178.99 L394.3 179.16 L394.8 179.05 L395.3 177.04 L395.8 176.55 L396.3 176.57 L396.8 176.47 L397.3 176.49 L397.8 177.92 L398.3 178.86 L398.8 178.66 L399.3 177.43 L399.8 178.02 L400.3 178.52 L400.8 176.09 L401.3 178.05" stroke="#8e0f35" stroke-width="1.9" fill="none" stroke-linejoin="round"/>
<path d="M312.7 182.73 L313.2 182.25 L313.7 182.05 L314.2 181.13 L314.7 180.14 L315.2 181.87 L315.73 180.38 L316.27 181.67 L316.8 182.06 L317.33 180.22 L317.87 180.12 L318.4 181.64 L318.92 180.73 L319.44 178.83 L319.96 178.46 L320.48 178.29 L321 180.31 L321.51 179.81 L322.03 177.61 L322.54 179.44 L323.06 179.68 L323.57 178.5 L324.09 177.37 L324.6 177.6 L324.6 177.53 L325.08 176.99 L325.57 176.66 L326.05 177.08 L326.53 176.6 L327.02 176.27 L327.5 176.3 L327.96 175.63 L328.42 175.62 L328.88 175.27 L329.34 174.52 L329.8 174.23 L330.25 173.91 L330.7 173.52 L331.15 173.41 L331.6 172.83 L332.05 172.59 L332.5 172.04 L332.86 172.22 L333.21 171.45 L333.57 171.16 L333.93 170.87 L334.29 170.73 L334.64 170.02 L335 169.99 L335.37 169.28 L335.73 168.89 L336.1 168.47 L336.47 167.7 L336.83 167.57 L337.2 166.98 L337.49 166.4 L337.77 166.5 L338.06 165.6 L338.34 165.35 L338.63 165.07 L338.91 164.5 L339.2 163.88 L339.5 163.55 L339.8 163.11 L340.1 162.8 L340.4 161.86 L340.7 161.71 L341 161.02 L341.24 160.56 L341.48 160.43 L341.72 159.77 L341.96 159.32 L342.2 158.8 L342.5 177.5 L343 178.63 L343.5 179.12 L344 177.62 L344.5 178.16 L345 177.82 L345.5 177.84 L346 178.42 L346.5 177.65 L347 177.91 L347.5 177.73 L348 179.21 L348.5 178.44 L349 179 L349.5 179.21 L350 177.03 L350.5 177.99 L351 179.22 L351.5 178.89 L352 176.64 L352.5 176.59 L353 177.61 L353.5 176.43 L354 176.97 L354.5 176.43 L355 178.34" stroke="#8e0f35" stroke-width="1.9" fill="none" stroke-linejoin="round"/>
<path d="M418.2 181.97 L418.65 181.89 L419.1 180.11 L419.55 180.93 L420 180.52 L420.5 179.16 L421 180.32 L421.5 180.16 L422 178.34 L422.5 179.46 L423 178 L423.5 177.82 L424 178.48 L424.4 177.86 L424.8 176.22 L425.2 176.46 L425.6 176.33 L426 176 L426 175.89 L426.46 175.45 L426.92 175.19 L427.38 175.14 L427.84 174.3 L428.3 174.34 L428.71 173.94 L429.12 173.32 L429.53 173.22 L429.94 173.1 L430.36 172.7 L430.77 172.06 L431.18 172.38 L431.59 171.92 L432 171.73 L432.42 170.78 L432.83 170.56 L433.25 170.06 L433.66 170.24 L434.08 169.55 L434.49 169.11 L434.91 168.98 L435.32 168.98 L435.74 168.58 L436.15 167.85 L436.57 167.43 L436.98 167.63 L437.4 167.05 L437.78 166.77 L438.17 165.98 L438.55 165.59 L438.93 165.67 L439.32 165.11 L439.7 164.5 L440.08 164.74 L440.47 164.16 L440.85 163.91 L441.23 163.04 L441.62 163.22 L442 162.3 L442.35 162.49 L442.69 161.84 L443.04 161.4 L443.38 161.19 L443.73 161.09 L444.08 160.27 L444.42 159.81 L444.77 159.73 L445.12 159.16 L445.46 158.71 L445.81 158.39 L446.15 157.95 L446.5 157.69 L446.85 157.38 L447.19 156.99 L447.54 156.93 L447.88 156.21 L448.23 155.98 L448.58 155.37 L448.92 155.1 L449.27 154.49 L449.62 154.26 L449.96 153.71 L450.31 153.83 L450.65 153.32 L451 152.68 L451.36 152.5 L451.72 152.44 L452.08 151.47 L452.45 151.58 L452.81 150.93 L453.17 150.59 L453.53 150.44 L453.89 149.75 L454.25 149.44 L454.62 149.19 L454.98 149.01 L455.34 148.17 L455.7 148.13 L456.06 147.67 L456.42 147.25 L456.78 146.72 L457.14 146.31 L457.49 145.74 L457.85 145.42 L458.21 145.01 L458.57 145.1 L458.93 144.39 L459.29 143.96 L459.65 143.53 L460.01 143.69 L460.36 143.34 L460.72 142.83 L461.08 142.19 L461.44 141.79 L461.8 141.6 L462.5 145.3 L463.2 140.3 L464.8 138.7 L471 131.8 L477.2 125 L477.5 177.3 L478 176.74 L478.5 177.27 L479 176.3 L479.5 177.23 L480 176.64 L480.5 178.88 L481 178.91 L481.5 177.55 L482 176.58 L482.5 178.89 L483 176.79 L483.5 176.94 L484 175.8 L484.5 177.02 L485 177.32 L485.5 177.41 L486 176.44 L486.5 177.42 L487 175.82 L487.5 176.65 L488 176.09 L488.5 177.08 L489 175.93 L489.5 175.87 L490 176.77 L490.5 176.54 L491 177.67 L491.5 177.49 L492 178.2 L492.5 177.9 L493 178.09 L493.5 178.61 L494 177.05 L494.5 176.84 L495 178.95 L495.5 176.28 L496 178.12 L496.5 177.86 L497 175.94 L497.5 178.47 L498 178.65 L498.5 177.81 L499 178.15 L499.5 178.4 L500 176.25" stroke="#8e0f35" stroke-width="1.9" fill="none" stroke-linejoin="round"/>
<line x1="280" y1="177.3" x2="501.4" y2="177.3" stroke="#000" stroke-width="1.6" stroke-dasharray="4.6 5"/>
<line x1="320.6" y1="125.4" x2="326.85" y2="132.8" stroke="#000" stroke-width="1.9"/>
<path d="M330.4 137 L323.93 134.61 L329.13 130.22 Z" stroke="none" stroke-width="1" fill="#000"/>
<line x1="451.7" y1="128.2" x2="457.72" y2="134.91" stroke="#000" stroke-width="1.9"/>
<path d="M461.4 139 L454.86 136.81 L459.92 132.26 Z" stroke="none" stroke-width="1" fill="#000"/>
<line x1="71.4" y1="366.3" x2="71.4" y2="526.5" stroke="#000" stroke-width="1.6"/>
<line x1="70.6" y1="525.7" x2="235.4" y2="525.7" stroke="#000" stroke-width="1.6"/>
<line x1="66.2" y1="525.7" x2="71.4" y2="525.7" stroke="#000" stroke-width="1.4"/>
<text x="61.9" y="528.5" font-size="12.3" text-anchor="end" fill="#222">0</text>
<line x1="66.2" y1="474.25" x2="71.4" y2="474.25" stroke="#000" stroke-width="1.4"/>
<text x="61.9" y="477.05" font-size="12.3" text-anchor="end" fill="#222">1</text>
<line x1="66.2" y1="422.8" x2="71.4" y2="422.8" stroke="#000" stroke-width="1.4"/>
<text x="61.9" y="425.6" font-size="12.3" text-anchor="end" fill="#222">2</text>
<line x1="66.2" y1="371.35" x2="71.4" y2="371.35" stroke="#000" stroke-width="1.4"/>
<text x="61.9" y="374.15" font-size="12.3" text-anchor="end" fill="#222">3</text>
<line x1="85.1" y1="475" x2="85.1" y2="474.2" stroke="#000" stroke-width="1.5"/>
<line x1="80.3" y1="474.2" x2="89.9" y2="474.2" stroke="#000" stroke-width="1.5"/>
<rect x="75.8" y="475" width="18.6" height="50.7" fill="#ad0a35"/>
<line x1="109.5" y1="467.9" x2="109.5" y2="462.7" stroke="#000" stroke-width="1.5"/>
<line x1="104.7" y1="462.7" x2="114.3" y2="462.7" stroke="#000" stroke-width="1.5"/>
<rect x="100.2" y="467.9" width="18.6" height="57.8" fill="#2c4a7e"/>
<line x1="141.95" y1="476.5" x2="141.95" y2="475.8" stroke="#000" stroke-width="1.5"/>
<line x1="137.15" y1="475.8" x2="146.75" y2="475.8" stroke="#000" stroke-width="1.5"/>
<rect x="132.7" y="476.5" width="18.5" height="49.2" fill="#ad0a35"/>
<line x1="165.7" y1="450.5" x2="165.7" y2="449.1" stroke="#000" stroke-width="1.5"/>
<line x1="160.9" y1="449.1" x2="170.5" y2="449.1" stroke="#000" stroke-width="1.5"/>
<rect x="156.5" y="450.5" width="18.4" height="75.2" fill="#2c4a7e"/>
<line x1="198.25" y1="476.1" x2="198.25" y2="475.4" stroke="#000" stroke-width="1.5"/>
<line x1="193.45" y1="475.4" x2="203.05" y2="475.4" stroke="#000" stroke-width="1.5"/>
<rect x="188.8" y="476.1" width="18.9" height="49.6" fill="#ad0a35"/>
<line x1="222.25" y1="406.8" x2="222.25" y2="396.9" stroke="#000" stroke-width="1.5"/>
<line x1="217.45" y1="396.9" x2="227.05" y2="396.9" stroke="#000" stroke-width="1.5"/>
<rect x="213" y="406.8" width="18.5" height="118.9" fill="#2c4a7e"/>
<line x1="111.9" y1="381.5" x2="225" y2="381.5" stroke="#000" stroke-width="1.5"/>
<line x1="168" y1="389.5" x2="225" y2="389.5" stroke="#000" stroke-width="1.5"/>
<line x1="111.9" y1="444.7" x2="168" y2="444.7" stroke="#000" stroke-width="1.5"/>
<text x="130.4" y="442" font-size="10.5" fill="#222" textLength="19.1" lengthAdjust="spacingAndGlyphs">n.s.</text>
<rect x="76.7" y="395.6" width="7.3" height="7.1" fill="#ad0a35"/>
<rect x="76.7" y="408.8" width="7.3" height="7.1" fill="#2c4a7e"/>
<text x="88.8" y="402.8" font-size="11.8" fill="#222" textLength="36" lengthAdjust="spacingAndGlyphs">WM23</text>
<text x="88.8" y="416" font-size="11.8" fill="#222" textLength="22.5" lengthAdjust="spacingAndGlyphs">5G6</text>
<text x="87.8" y="540.4" font-size="11.5" fill="#222" textLength="19" lengthAdjust="spacingAndGlyphs">IgG</text>
<text x="142.7" y="540.4" font-size="11.5" fill="#222" textLength="22.1" lengthAdjust="spacingAndGlyphs">AK2</text>
<text x="199.5" y="540.4" font-size="11.5" fill="#222" textLength="21.5" lengthAdjust="spacingAndGlyphs">6B4</text>
<text x="47.2" y="504.9" font-size="15" fill="#222" textLength="125" lengthAdjust="spacingAndGlyphs" transform="rotate(-90 47.2 504.9)">Fold change (shear/static)</text>
<line x1="71" y1="583.4" x2="71" y2="739.1" stroke="#000" stroke-width="1.6"/>
<line x1="70.2" y1="738.3" x2="252" y2="738.3" stroke="#000" stroke-width="1.6"/>
<line x1="66" y1="738.1" x2="71" y2="738.1" stroke="#000" stroke-width="1.4"/>
<line x1="68.2" y1="723.05" x2="71" y2="723.05" stroke="#000" stroke-width="1.1"/>
<line x1="68.2" y1="714.24" x2="71" y2="714.24" stroke="#000" stroke-width="1.1"/>
<line x1="68.2" y1="708" x2="71" y2="708" stroke="#000" stroke-width="1.1"/>
<line x1="68.2" y1="703.15" x2="71" y2="703.15" stroke="#000" stroke-width="1.1"/>
<line x1="68.2" y1="699.19" x2="71" y2="699.19" stroke="#000" stroke-width="1.1"/>
<line x1="68.2" y1="695.85" x2="71" y2="695.85" stroke="#000" stroke-width="1.1"/>
<line x1="68.2" y1="692.95" x2="71" y2="692.95" stroke="#000" stroke-width="1.1"/>
<line x1="68.2" y1="690.39" x2="71" y2="690.39" stroke="#000" stroke-width="1.1"/>
<line x1="66" y1="688.1" x2="71" y2="688.1" stroke="#000" stroke-width="1.4"/>
<line x1="68.2" y1="673.05" x2="71" y2="673.05" stroke="#000" stroke-width="1.1"/>
<line x1="68.2" y1="664.24" x2="71" y2="664.24" stroke="#000" stroke-width="1.1"/>
<line x1="68.2" y1="658" x2="71" y2="658" stroke="#000" stroke-width="1.1"/>
<line x1="68.2" y1="653.15" x2="71" y2="653.15" stroke="#000" stroke-width="1.1"/>
<line x1="68.2" y1="649.19" x2="71" y2="649.19" stroke="#000" stroke-width="1.1"/>
<line x1="68.2" y1="645.85" x2="71" y2="645.85" stroke="#000" stroke-width="1.1"/>
<line x1="68.2" y1="642.95" x2="71" y2="642.95" stroke="#000" stroke-width="1.1"/>
<line x1="68.2" y1="640.39" x2="71" y2="640.39" stroke="#000" stroke-width="1.1"/>
<line x1="66" y1="638.1" x2="71" y2="638.1" stroke="#000" stroke-width="1.4"/>
<line x1="68.2" y1="623.05" x2="71" y2="623.05" stroke="#000" stroke-width="1.1"/>
<line x1="68.2" y1="614.24" x2="71" y2="614.24" stroke="#000" stroke-width="1.1"/>
<line x1="68.2" y1="608" x2="71" y2="608" stroke="#000" stroke-width="1.1"/>
<line x1="68.2" y1="603.15" x2="71" y2="603.15" stroke="#000" stroke-width="1.1"/>
<line x1="68.2" y1="599.19" x2="71" y2="599.19" stroke="#000" stroke-width="1.1"/>
<line x1="68.2" y1="595.85" x2="71" y2="595.85" stroke="#000" stroke-width="1.1"/>
<line x1="68.2" y1="592.95" x2="71" y2="592.95" stroke="#000" stroke-width="1.1"/>
<line x1="68.2" y1="590.39" x2="71" y2="590.39" stroke="#000" stroke-width="1.1"/>
<line x1="66" y1="588.1" x2="71" y2="588.1" stroke="#000" stroke-width="1.4"/>
<text x="62" y="591.1" font-size="11.8" text-anchor="end" fill="#222">100</text>
<text x="62" y="641.1" font-size="11.8" text-anchor="end" fill="#222">10</text>
<text x="62" y="691.1" font-size="11.8" text-anchor="end" fill="#222">1</text>
<text x="61.6" y="741.1" font-size="11.8" text-anchor="end" fill="#222">0.1</text>
<line x1="71" y1="738.3" x2="71" y2="742.6" stroke="#000" stroke-width="1.4"/>
<text x="71" y="757.6" font-size="12.2" text-anchor="middle" fill="#222">0</text>
<line x1="90.8" y1="738.3" x2="90.8" y2="740.8" stroke="#000" stroke-width="1.2"/>
<line x1="110.6" y1="738.3" x2="110.6" y2="742.6" stroke="#000" stroke-width="1.4"/>
<text x="110.6" y="757.6" font-size="12.2" text-anchor="middle" fill="#222">20</text>
<line x1="130.4" y1="738.3" x2="130.4" y2="740.8" stroke="#000" stroke-width="1.2"/>
<line x1="150.2" y1="738.3" x2="150.2" y2="742.6" stroke="#000" stroke-width="1.4"/>
<text x="150.2" y="757.6" font-size="12.2" text-anchor="middle" fill="#222">40</text>
<line x1="170" y1="738.3" x2="170" y2="740.8" stroke="#000" stroke-width="1.2"/>
<line x1="189.8" y1="738.3" x2="189.8" y2="742.6" stroke="#000" stroke-width="1.4"/>
<text x="189.8" y="757.6" font-size="12.2" text-anchor="middle" fill="#222">60</text>
<line x1="209.6" y1="738.3" x2="209.6" y2="740.8" stroke="#000" stroke-width="1.2"/>
<line x1="229.4" y1="738.3" x2="229.4" y2="742.6" stroke="#000" stroke-width="1.4"/>
<text x="229.4" y="757.6" font-size="12.2" text-anchor="middle" fill="#222">80</text>
<line x1="249.2" y1="738.3" x2="249.2" y2="740.8" stroke="#000" stroke-width="1.2"/>
<text x="137.5" y="777.5" font-size="14.8" fill="#222" textLength="49.8" lengthAdjust="spacingAndGlyphs">Force (pN)</text>
<text x="31.7" y="729.3" font-size="13.5" fill="#222" textLength="146.6" lengthAdjust="spacingAndGlyphs" transform="rotate(-90 31.7 729.3)">Lifetime of Ibα-mAb bond (s)</text>
<line x1="130.2" y1="686.7" x2="130.2" y2="711" stroke="#000" stroke-width="1.5"/>
<line x1="128" y1="686.7" x2="132.4" y2="686.7" stroke="#000" stroke-width="1.5"/>
<line x1="128" y1="711" x2="132.4" y2="711" stroke="#000" stroke-width="1.5"/>
<line x1="140.2" y1="686.7" x2="140.2" y2="725.2" stroke="#000" stroke-width="1.5"/>
<line x1="138" y1="686.7" x2="142.4" y2="686.7" stroke="#000" stroke-width="1.5"/>
<line x1="138" y1="725.2" x2="142.4" y2="725.2" stroke="#000" stroke-width="1.5"/>
<line x1="209.1" y1="695.6" x2="209.1" y2="714.4" stroke="#000" stroke-width="1.5"/>
<line x1="206.9" y1="695.6" x2="211.3" y2="695.6" stroke="#000" stroke-width="1.5"/>
<line x1="206.9" y1="714.4" x2="211.3" y2="714.4" stroke="#000" stroke-width="1.5"/>
<line x1="219" y1="698.3" x2="219" y2="711.7" stroke="#000" stroke-width="1.5"/>
<line x1="216.8" y1="698.3" x2="221.2" y2="698.3" stroke="#000" stroke-width="1.5"/>
<line x1="216.8" y1="711.7" x2="221.2" y2="711.7" stroke="#000" stroke-width="1.5"/>
<line x1="238.7" y1="697" x2="238.7" y2="735.2" stroke="#000" stroke-width="1.5"/>
<line x1="236.5" y1="697" x2="240.9" y2="697" stroke="#000" stroke-width="1.5"/>
<line x1="236.5" y1="735.2" x2="240.9" y2="735.2" stroke="#000" stroke-width="1.5"/>
<rect x="97.1" y="604.7" width="7.2" height="7.2" fill="#e09a2c"/>
<rect x="116.9" y="653.8" width="7.2" height="7.2" fill="#e09a2c"/>
<rect x="136.7" y="666.2" width="7.2" height="7.2" fill="#e09a2c"/>
<rect x="156.5" y="676.9" width="7.2" height="7.2" fill="#e09a2c"/>
<rect x="176.3" y="676.5" width="7.2" height="7.2" fill="#e09a2c"/>
<rect x="196.1" y="693.5" width="7.2" height="7.2" fill="#e09a2c"/>
<rect x="215.9" y="700.9" width="7.2" height="7.2" fill="#e09a2c"/>
<rect x="235.7" y="705.4" width="7.2" height="7.2" fill="#e09a2c"/>
<rect x="88" y="628.9" width="5.6" height="5.6" fill="#fff" stroke="#34496e" stroke-width="1.5"/>
<rect x="107.8" y="659.9" width="5.6" height="5.6" fill="#fff" stroke="#34496e" stroke-width="1.5"/>
<rect x="127.6" y="675.1" width="5.6" height="5.6" fill="#fff" stroke="#34496e" stroke-width="1.5"/>
<rect x="147.4" y="676" width="5.6" height="5.6" fill="#fff" stroke="#34496e" stroke-width="1.5"/>
<rect x="167.2" y="681.9" width="5.6" height="5.6" fill="#fff" stroke="#34496e" stroke-width="1.5"/>
<rect x="187" y="687" width="5.6" height="5.6" fill="#fff" stroke="#34496e" stroke-width="1.5"/>
<rect x="206.8" y="700" width="5.6" height="5.6" fill="#fff" stroke="#34496e" stroke-width="1.5"/>
<circle cx="80.9" cy="652.5" r="3.65" fill="#4c205f"/>
<circle cx="90.8" cy="664" r="3.65" fill="#4c205f"/>
<circle cx="100.7" cy="667" r="3.65" fill="#4c205f"/>
<circle cx="110.6" cy="674.6" r="3.65" fill="#4c205f"/>
<circle cx="120.5" cy="684.6" r="3.65" fill="#4c205f"/>
<circle cx="130.4" cy="697" r="3.65" fill="#4c205f"/>
<circle cx="80.9" cy="630.8" r="2.85" fill="#fff" stroke="#a31c45" stroke-width="1.6"/>
<circle cx="90.8" cy="658.7" r="2.85" fill="#fff" stroke="#a31c45" stroke-width="1.6"/>
<circle cx="100.7" cy="663" r="2.85" fill="#fff" stroke="#a31c45" stroke-width="1.6"/>
<circle cx="110.6" cy="668.5" r="2.85" fill="#fff" stroke="#a31c45" stroke-width="1.6"/>
<circle cx="120.5" cy="673.7" r="2.85" fill="#fff" stroke="#a31c45" stroke-width="1.6"/>
<circle cx="130.4" cy="692.9" r="2.85" fill="#fff" stroke="#a31c45" stroke-width="1.6"/>
<circle cx="140.3" cy="697.7" r="2.85" fill="#fff" stroke="#a31c45" stroke-width="1.6"/>
<circle cx="159.8" cy="602.1" r="2.85" fill="#fff" stroke="#a31c45" stroke-width="1.6"/>
<circle cx="159.8" cy="615.3" r="3.65" fill="#4c205f"/>
<rect x="157" y="625.6" width="5.6" height="5.6" fill="#fff" stroke="#34496e" stroke-width="1.5"/>
<rect x="156.2" y="637.9" width="7.2" height="7.2" fill="#e09a2c"/>
<text x="168.3" y="605.9" font-size="12.2" fill="#222" textLength="81.5" lengthAdjust="spacingAndGlyphs">MSD unfolding</text>
<text x="168.3" y="618.9" font-size="12.2" fill="#222" textLength="22" lengthAdjust="spacingAndGlyphs">AK2</text>
<text x="168.3" y="632" font-size="12.2" fill="#222" textLength="27.3" lengthAdjust="spacingAndGlyphs">11A8</text>
<text x="168.3" y="645" font-size="12.2" fill="#222" textLength="21" lengthAdjust="spacingAndGlyphs">6B4</text>
<line x1="333.6" y1="364.6" x2="333.6" y2="432.7" stroke="#000" stroke-width="1.6"/>
<line x1="332.8" y1="428.9" x2="503.8" y2="428.9" stroke="#000" stroke-width="1.6"/>
<line x1="328.8" y1="428.9" x2="333.6" y2="428.9" stroke="#000" stroke-width="1.4"/>
<line x1="328.8" y1="416.8" x2="333.6" y2="416.8" stroke="#000" stroke-width="1.4"/>
<line x1="328.8" y1="404.8" x2="333.6" y2="404.8" stroke="#000" stroke-width="1.4"/>
<line x1="328.8" y1="392.7" x2="333.6" y2="392.7" stroke="#000" stroke-width="1.4"/>
<line x1="328.8" y1="380.6" x2="333.6" y2="380.6" stroke="#000" stroke-width="1.4"/>
<line x1="328.8" y1="368.6" x2="333.6" y2="368.6" stroke="#000" stroke-width="1.4"/>
<text x="324.4" y="432.7" font-size="12" text-anchor="end" fill="#222">0</text>
<text x="324.4" y="408.6" font-size="12" text-anchor="end" fill="#222">20</text>
<text x="324.4" y="384.4" font-size="12" text-anchor="end" fill="#222">30</text>
<line x1="333.5" y1="428.9" x2="333.5" y2="432.9" stroke="#000" stroke-width="1.4"/>
<line x1="366.5" y1="428.9" x2="366.5" y2="432.9" stroke="#000" stroke-width="1.4"/>
<line x1="399.5" y1="428.9" x2="399.5" y2="432.9" stroke="#000" stroke-width="1.4"/>
<line x1="432.5" y1="428.9" x2="432.5" y2="432.9" stroke="#000" stroke-width="1.4"/>
<line x1="465.5" y1="428.9" x2="465.5" y2="432.9" stroke="#000" stroke-width="1.4"/>
<line x1="498.5" y1="428.9" x2="498.5" y2="432.9" stroke="#000" stroke-width="1.4"/>
<line x1="341.75" y1="414.7" x2="341.75" y2="408.1" stroke="#000" stroke-width="1.5"/>
<line x1="339.95" y1="408.1" x2="343.55" y2="408.1" stroke="#000" stroke-width="1.6"/>
<rect x="338.15" y="414.7" width="7.2" height="14.2" fill="#a8062e"/>
<line x1="350" y1="380.4" x2="350" y2="369.2" stroke="#000" stroke-width="1.5"/>
<line x1="348.2" y1="369.2" x2="351.8" y2="369.2" stroke="#000" stroke-width="1.6"/>
<rect x="346.4" y="380.4" width="7.2" height="48.5" fill="#a8062e"/>
<line x1="358.25" y1="387.6" x2="358.25" y2="377.3" stroke="#000" stroke-width="1.5"/>
<line x1="356.45" y1="377.3" x2="360.05" y2="377.3" stroke="#000" stroke-width="1.6"/>
<rect x="354.65" y="387.6" width="7.2" height="41.3" fill="#a8062e"/>
<line x1="366.5" y1="402.4" x2="366.5" y2="394.2" stroke="#000" stroke-width="1.5"/>
<line x1="364.7" y1="394.2" x2="368.3" y2="394.2" stroke="#000" stroke-width="1.6"/>
<rect x="362.9" y="402.4" width="7.2" height="26.5" fill="#a8062e"/>
<line x1="374.75" y1="409.6" x2="374.75" y2="402.4" stroke="#000" stroke-width="1.5"/>
<line x1="372.95" y1="402.4" x2="376.55" y2="402.4" stroke="#000" stroke-width="1.6"/>
<rect x="371.15" y="409.6" width="7.2" height="19.3" fill="#a8062e"/>
<line x1="383" y1="411.9" x2="383" y2="405.5" stroke="#000" stroke-width="1.5"/>
<line x1="381.2" y1="405.5" x2="384.8" y2="405.5" stroke="#000" stroke-width="1.6"/>
<rect x="379.4" y="411.9" width="7.2" height="17" fill="#a8062e"/>
<line x1="391.25" y1="424.2" x2="391.25" y2="420.4" stroke="#000" stroke-width="1.5"/>
<line x1="389.45" y1="420.4" x2="393.05" y2="420.4" stroke="#000" stroke-width="1.6"/>
<rect x="387.65" y="424.2" width="7.2" height="4.7" fill="#a8062e"/>
<line x1="333.5" y1="452.4" x2="333.5" y2="532.1" stroke="#000" stroke-width="1.6"/>
<line x1="332.7" y1="528.3" x2="503.8" y2="528.3" stroke="#000" stroke-width="1.6"/>
<line x1="328.7" y1="528.3" x2="333.5" y2="528.3" stroke="#000" stroke-width="1.4"/>
<line x1="328.7" y1="510" x2="333.5" y2="510" stroke="#000" stroke-width="1.4"/>
<line x1="328.7" y1="492" x2="333.5" y2="492" stroke="#000" stroke-width="1.4"/>
<line x1="328.7" y1="473.9" x2="333.5" y2="473.9" stroke="#000" stroke-width="1.4"/>
<line x1="328.7" y1="455.6" x2="333.5" y2="455.6" stroke="#000" stroke-width="1.4"/>
<text x="324.4" y="532.1" font-size="12" text-anchor="end" fill="#222">0</text>
<text x="324.4" y="495.8" font-size="12" text-anchor="end" fill="#222">20</text>
<text x="324.4" y="459.4" font-size="12" text-anchor="end" fill="#222">40</text>
<line x1="333.5" y1="528.3" x2="333.5" y2="532.3" stroke="#000" stroke-width="1.4"/>
<line x1="366.5" y1="528.3" x2="366.5" y2="532.3" stroke="#000" stroke-width="1.4"/>
<line x1="399.5" y1="528.3" x2="399.5" y2="532.3" stroke="#000" stroke-width="1.4"/>
<line x1="432.5" y1="528.3" x2="432.5" y2="532.3" stroke="#000" stroke-width="1.4"/>
<line x1="465.5" y1="528.3" x2="465.5" y2="532.3" stroke="#000" stroke-width="1.4"/>
<line x1="498.5" y1="528.3" x2="498.5" y2="532.3" stroke="#000" stroke-width="1.4"/>
<line x1="341.75" y1="483.1" x2="341.75" y2="473.1" stroke="#000" stroke-width="1.5"/>
<line x1="339.95" y1="473.1" x2="343.55" y2="473.1" stroke="#000" stroke-width="1.6"/>
<rect x="338.15" y="483.1" width="7.2" height="45.2" fill="#a8062e"/>
<line x1="350" y1="473.6" x2="350" y2="463.6" stroke="#000" stroke-width="1.5"/>
<line x1="348.2" y1="463.6" x2="351.8" y2="463.6" stroke="#000" stroke-width="1.6"/>
<rect x="346.4" y="473.6" width="7.2" height="54.7" fill="#a8062e"/>
<line x1="358.25" y1="488" x2="358.25" y2="479.5" stroke="#000" stroke-width="1.5"/>
<line x1="356.45" y1="479.5" x2="360.05" y2="479.5" stroke="#000" stroke-width="1.6"/>
<rect x="354.65" y="488" width="7.2" height="40.3" fill="#a8062e"/>
<line x1="366.5" y1="495.8" x2="366.5" y2="488" stroke="#000" stroke-width="1.5"/>
<line x1="364.7" y1="488" x2="368.3" y2="488" stroke="#000" stroke-width="1.6"/>
<rect x="362.9" y="495.8" width="7.2" height="32.5" fill="#a8062e"/>
<line x1="374.75" y1="506.8" x2="374.75" y2="499.6" stroke="#000" stroke-width="1.5"/>
<line x1="372.95" y1="499.6" x2="376.55" y2="499.6" stroke="#000" stroke-width="1.6"/>
<rect x="371.15" y="506.8" width="7.2" height="21.5" fill="#a8062e"/>
<line x1="383" y1="519" x2="383" y2="515.2" stroke="#000" stroke-width="1.5"/>
<line x1="381.2" y1="515.2" x2="384.8" y2="515.2" stroke="#000" stroke-width="1.6"/>
<rect x="379.4" y="519" width="7.2" height="9.3" fill="#a8062e"/>
<line x1="333.7" y1="551.3" x2="333.7" y2="621.2" stroke="#000" stroke-width="1.6"/>
<line x1="332.9" y1="617.4" x2="503.8" y2="617.4" stroke="#000" stroke-width="1.6"/>
<line x1="328.9" y1="617.4" x2="333.7" y2="617.4" stroke="#000" stroke-width="1.4"/>
<line x1="328.9" y1="607.1" x2="333.7" y2="607.1" stroke="#000" stroke-width="1.4"/>
<line x1="328.9" y1="597" x2="333.7" y2="597" stroke="#000" stroke-width="1.4"/>
<line x1="328.9" y1="586.7" x2="333.7" y2="586.7" stroke="#000" stroke-width="1.4"/>
<line x1="328.9" y1="576.4" x2="333.7" y2="576.4" stroke="#000" stroke-width="1.4"/>
<line x1="328.9" y1="566" x2="333.7" y2="566" stroke="#000" stroke-width="1.4"/>
<line x1="328.9" y1="555.7" x2="333.7" y2="555.7" stroke="#000" stroke-width="1.4"/>
<text x="324.4" y="621.2" font-size="12" text-anchor="end" fill="#222">0</text>
<text x="324.4" y="600.8" font-size="12" text-anchor="end" fill="#222">40</text>
<text x="324.4" y="580.2" font-size="12" text-anchor="end" fill="#222">80</text>
<text x="324.4" y="559.5" font-size="12" text-anchor="end" fill="#222">120</text>
<line x1="333.5" y1="617.4" x2="333.5" y2="621.4" stroke="#000" stroke-width="1.4"/>
<line x1="366.5" y1="617.4" x2="366.5" y2="621.4" stroke="#000" stroke-width="1.4"/>
<line x1="399.5" y1="617.4" x2="399.5" y2="621.4" stroke="#000" stroke-width="1.4"/>
<line x1="432.5" y1="617.4" x2="432.5" y2="621.4" stroke="#000" stroke-width="1.4"/>
<line x1="465.5" y1="617.4" x2="465.5" y2="621.4" stroke="#000" stroke-width="1.4"/>
<line x1="498.5" y1="617.4" x2="498.5" y2="621.4" stroke="#000" stroke-width="1.4"/>
<line x1="350" y1="605.2" x2="350" y2="602.5" stroke="#000" stroke-width="1.5"/>
<line x1="348.2" y1="602.5" x2="351.8" y2="602.5" stroke="#000" stroke-width="1.6"/>
<rect x="343" y="605.2" width="14" height="12.2" fill="#a8062e"/>
<line x1="366.5" y1="574.5" x2="366.5" y2="569" stroke="#000" stroke-width="1.5"/>
<line x1="364.7" y1="569" x2="368.3" y2="569" stroke="#000" stroke-width="1.6"/>
<rect x="359.5" y="574.5" width="14" height="42.9" fill="#a8062e"/>
<line x1="383" y1="560.2" x2="383" y2="554.8" stroke="#000" stroke-width="1.5"/>
<line x1="381.2" y1="554.8" x2="384.8" y2="554.8" stroke="#000" stroke-width="1.6"/>
<rect x="376" y="560.2" width="14" height="57.2" fill="#a8062e"/>
<line x1="399.5" y1="587.9" x2="399.5" y2="583.6" stroke="#000" stroke-width="1.5"/>
<line x1="397.7" y1="583.6" x2="401.3" y2="583.6" stroke="#000" stroke-width="1.6"/>
<rect x="392.5" y="587.9" width="14" height="29.5" fill="#a8062e"/>
<line x1="416" y1="601.9" x2="416" y2="597.9" stroke="#000" stroke-width="1.5"/>
<line x1="414.2" y1="597.9" x2="417.8" y2="597.9" stroke="#000" stroke-width="1.6"/>
<rect x="409" y="601.9" width="14" height="15.5" fill="#a8062e"/>
<line x1="432.5" y1="610.5" x2="432.5" y2="608.1" stroke="#000" stroke-width="1.5"/>
<line x1="430.7" y1="608.1" x2="434.3" y2="608.1" stroke="#000" stroke-width="1.6"/>
<rect x="425.5" y="610.5" width="14" height="6.9" fill="#a8062e"/>
<line x1="449" y1="614.5" x2="449" y2="613" stroke="#000" stroke-width="1.5"/>
<line x1="447.2" y1="613" x2="450.8" y2="613" stroke="#000" stroke-width="1.6"/>
<rect x="442" y="614.5" width="14" height="2.9" fill="#a8062e"/>
<line x1="334.2" y1="640.4" x2="334.2" y2="713.3" stroke="#000" stroke-width="1.6"/>
<line x1="333.4" y1="709.5" x2="503.8" y2="709.5" stroke="#000" stroke-width="1.6"/>
<line x1="329.4" y1="709.5" x2="334.2" y2="709.5" stroke="#000" stroke-width="1.4"/>
<line x1="329.4" y1="695.2" x2="334.2" y2="695.2" stroke="#000" stroke-width="1.4"/>
<line x1="329.4" y1="680.8" x2="334.2" y2="680.8" stroke="#000" stroke-width="1.4"/>
<line x1="329.4" y1="666.3" x2="334.2" y2="666.3" stroke="#000" stroke-width="1.4"/>
<line x1="329.4" y1="651.9" x2="334.2" y2="651.9" stroke="#000" stroke-width="1.4"/>
<text x="324.4" y="713.3" font-size="12" text-anchor="end" fill="#222">0</text>
<text x="324.4" y="684.6" font-size="12" text-anchor="end" fill="#222">20</text>
<text x="324.4" y="655.7" font-size="12" text-anchor="end" fill="#222">40</text>
<line x1="333.5" y1="709.5" x2="333.5" y2="713.5" stroke="#000" stroke-width="1.4"/>
<text x="333.5" y="729.8" font-size="11.8" text-anchor="middle" fill="#222">0</text>
<line x1="366.5" y1="709.5" x2="366.5" y2="713.5" stroke="#000" stroke-width="1.4"/>
<text x="366.5" y="729.8" font-size="11.8" text-anchor="middle" fill="#222">20</text>
<line x1="399.5" y1="709.5" x2="399.5" y2="713.5" stroke="#000" stroke-width="1.4"/>
<text x="399.5" y="729.8" font-size="11.8" text-anchor="middle" fill="#222">40</text>
<line x1="432.5" y1="709.5" x2="432.5" y2="713.5" stroke="#000" stroke-width="1.4"/>
<text x="432.5" y="729.8" font-size="11.8" text-anchor="middle" fill="#222">60</text>
<line x1="465.5" y1="709.5" x2="465.5" y2="713.5" stroke="#000" stroke-width="1.4"/>
<text x="465.5" y="729.8" font-size="11.8" text-anchor="middle" fill="#222">80</text>
<line x1="498.5" y1="709.5" x2="498.5" y2="713.5" stroke="#000" stroke-width="1.4"/>
<text x="498.5" y="729.8" font-size="11.8" text-anchor="middle" fill="#222">100</text>
<line x1="358.25" y1="705.5" x2="358.25" y2="702.7" stroke="#000" stroke-width="1.5"/>
<line x1="356.45" y1="702.7" x2="360.05" y2="702.7" stroke="#000" stroke-width="1.6"/>
<rect x="351.25" y="705.5" width="14" height="4" fill="#a8062e"/>
<line x1="374.75" y1="676.2" x2="374.75" y2="669.2" stroke="#000" stroke-width="1.5"/>
<line x1="372.95" y1="669.2" x2="376.55" y2="669.2" stroke="#000" stroke-width="1.6"/>
<rect x="367.75" y="676.2" width="14" height="33.3" fill="#a8062e"/>
<line x1="391.25" y1="661.8" x2="391.25" y2="653.1" stroke="#000" stroke-width="1.5"/>
<line x1="389.45" y1="653.1" x2="393.05" y2="653.1" stroke="#000" stroke-width="1.6"/>
<rect x="384.25" y="661.8" width="14" height="47.7" fill="#a8062e"/>
<line x1="407.75" y1="656" x2="407.75" y2="646.6" stroke="#000" stroke-width="1.5"/>
<line x1="405.95" y1="646.6" x2="409.55" y2="646.6" stroke="#000" stroke-width="1.6"/>
<rect x="400.75" y="656" width="14" height="53.5" fill="#a8062e"/>
<line x1="424.25" y1="678.2" x2="424.25" y2="670.2" stroke="#000" stroke-width="1.5"/>
<line x1="422.45" y1="670.2" x2="426.05" y2="670.2" stroke="#000" stroke-width="1.6"/>
<rect x="417.25" y="678.2" width="14" height="31.3" fill="#a8062e"/>
<line x1="440.75" y1="674.8" x2="440.75" y2="667.7" stroke="#000" stroke-width="1.5"/>
<line x1="438.95" y1="667.7" x2="442.55" y2="667.7" stroke="#000" stroke-width="1.6"/>
<rect x="433.75" y="674.8" width="14" height="34.7" fill="#a8062e"/>
<line x1="457.25" y1="698.1" x2="457.25" y2="693.5" stroke="#000" stroke-width="1.5"/>
<line x1="455.45" y1="693.5" x2="459.05" y2="693.5" stroke="#000" stroke-width="1.6"/>
<rect x="450.25" y="698.1" width="14" height="11.4" fill="#a8062e"/>
<line x1="473.75" y1="706.6" x2="473.75" y2="705.1" stroke="#000" stroke-width="1.5"/>
<line x1="471.95" y1="705.1" x2="475.55" y2="705.1" stroke="#000" stroke-width="1.6"/>
<rect x="466.75" y="706.6" width="14" height="2.9" fill="#a8062e"/>
<path d="M457.7 685 L458.43 686.89 L460.46 687 L458.89 688.29 L459.4 690.25 L457.7 689.15 L456 690.25 L456.51 688.29 L454.94 687 L456.97 686.89 Z" stroke="none" stroke-width="1" fill="#1a1a1a"/>
<path d="M165.4 372.5 L166.08 374.27 L167.97 374.37 L166.49 375.56 L166.99 377.38 L165.4 376.35 L163.81 377.38 L164.31 375.56 L162.83 374.37 L164.72 374.27 Z" stroke="none" stroke-width="1" fill="#1a1a1a"/>
<path d="M170.9 372.5 L171.58 374.27 L173.47 374.37 L171.99 375.56 L172.49 377.38 L170.9 376.35 L169.31 377.38 L169.81 375.56 L168.33 374.37 L170.22 374.27 Z" stroke="none" stroke-width="1" fill="#1a1a1a"/>
<path d="M474.6 696.1 L475.33 697.99 L477.36 698.1 L475.79 699.39 L476.3 701.35 L474.6 700.25 L472.9 701.35 L473.41 699.39 L471.84 698.1 L473.87 697.99 Z" stroke="none" stroke-width="1" fill="#1a1a1a"/>
<text x="500.8" y="383.8" font-size="12.2" text-anchor="end" fill="#222" textLength="76.4" lengthAdjust="spacingAndGlyphs">MSD unfolding</text>
<text x="500.8" y="476.7" font-size="12.2" text-anchor="end" fill="#222" textLength="75.8" lengthAdjust="spacingAndGlyphs">AK2 unbinding</text>
<text x="500.5" y="566.4" font-size="12.2" text-anchor="end" fill="#222" textLength="81" lengthAdjust="spacingAndGlyphs">11A8 unbinding</text>
<text x="500.5" y="648" font-size="12.2" text-anchor="end" fill="#222" textLength="74.7" lengthAdjust="spacingAndGlyphs">6B4 unbinding</text>
<text x="393.5" y="748.8" font-size="14.4" fill="#222" textLength="51.1" lengthAdjust="spacingAndGlyphs">Force (pN)</text>
<text x="295.7" y="553.7" font-size="14.6" fill="#222" textLength="34.1" lengthAdjust="spacingAndGlyphs" transform="rotate(-90 295.7 553.7)">Counts</text>
<rect x="1" y="1" width="518" height="790" fill="none" stroke="#000" stroke-width="2"/>
</svg>
</body></html>
